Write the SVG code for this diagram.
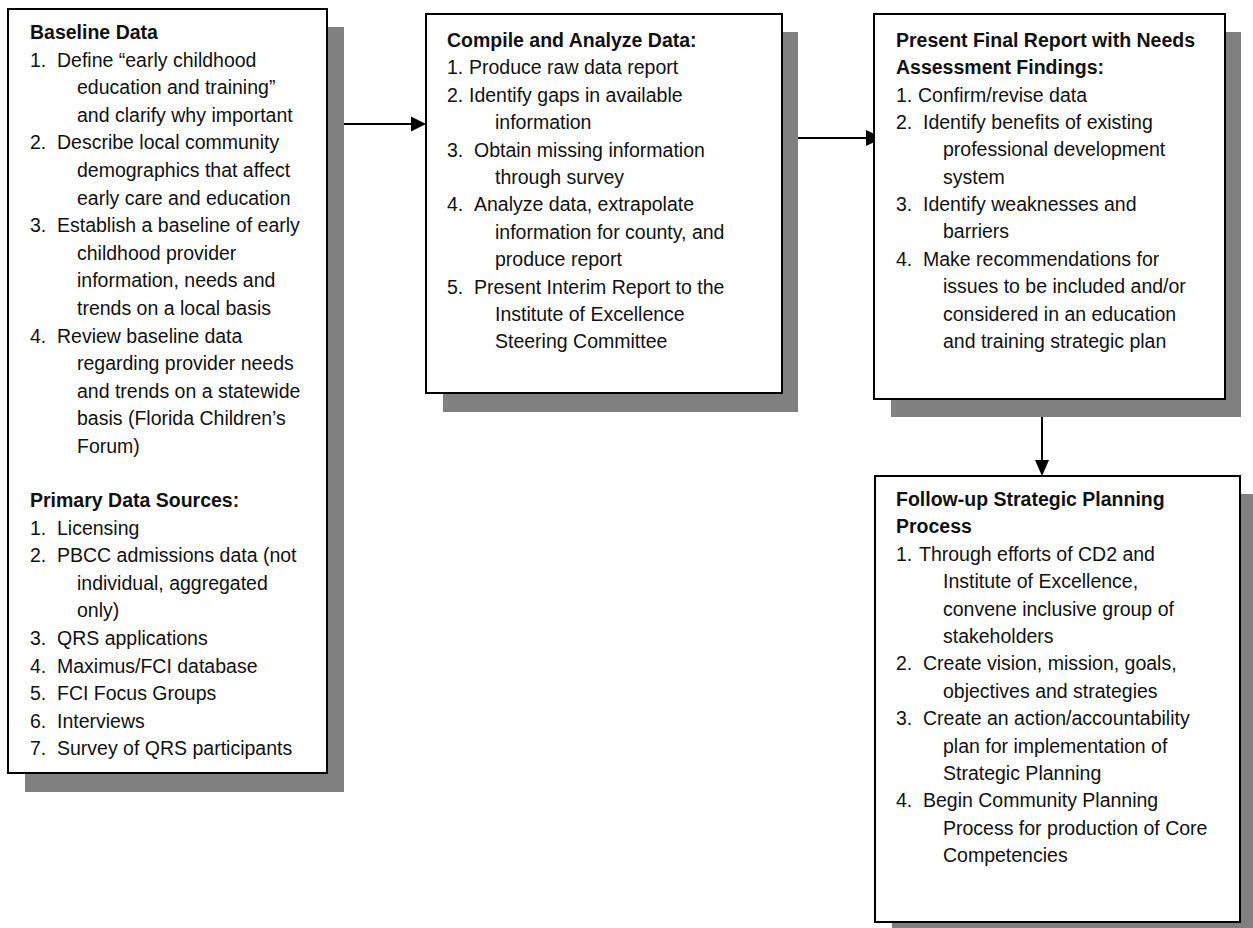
<svg xmlns="http://www.w3.org/2000/svg" width="1253" height="928" viewBox="0 0 1253 928">
<defs>
<style>
.shadow{fill:#808080;stroke:none}
.box{fill:#fff;stroke:#000;stroke-width:2}
.t{font-family:"Liberation Sans",Arial,sans-serif;font-size:19.5px;fill:#111}
.b{font-weight:bold}
.conn{stroke:#000;stroke-width:2;fill:none}
.head{fill:#000;stroke:none}
</style>
</defs>
<rect width="1253" height="928" fill="#fff"/>
<g id="connectors">
<line class="conn" x1="344" y1="124" x2="413" y2="124"/>
<polygon class="head" points="411,116.5 426,124 411,131.5"/>
<line class="conn" x1="798" y1="138" x2="868" y2="138"/>
<polygon class="head" points="866,130 883,138 866,146"/>
<line class="conn" x1="1042" y1="417" x2="1042" y2="462"/>
<polygon class="head" points="1035,460 1049,460 1042,476"/>
</g>
<g id="node-baseline">
<rect class="shadow" x="25" y="27" width="319" height="765"/>
<rect class="box" x="8" y="9" width="319" height="764"/>
<text class="t b" x="30" y="39">Baseline Data</text>
<text class="t" x="30" y="66.6">1.<tspan x="57">Define “early childhood</tspan></text>
<text class="t" x="77" y="94.2">education and training”</text>
<text class="t" x="77" y="121.8">and clarify why important</text>
<text class="t" x="30" y="149.4">2.<tspan x="57">Describe local community</tspan></text>
<text class="t" x="77" y="177">demographics that affect</text>
<text class="t" x="77" y="204.6">early care and education</text>
<text class="t" x="30" y="232.2">3.<tspan x="57">Establish a baseline of early</tspan></text>
<text class="t" x="77" y="259.8">childhood provider</text>
<text class="t" x="77" y="287.4">information, needs and</text>
<text class="t" x="77" y="315">trends on a local basis</text>
<text class="t" x="30" y="342.6">4.<tspan x="57">Review baseline data</tspan></text>
<text class="t" x="77" y="370.2">regarding provider needs</text>
<text class="t" x="77" y="397.8">and trends on a statewide</text>
<text class="t" x="77" y="425.4">basis (Florida Children’s</text>
<text class="t" x="77" y="453">Forum)</text>
<text class="t b" x="30" y="507">Primary Data Sources:</text>
<text class="t" x="30" y="534.6">1.<tspan x="57">Licensing</tspan></text>
<text class="t" x="30" y="562.2">2.<tspan x="57">PBCC admissions data (not</tspan></text>
<text class="t" x="77" y="589.8">individual, aggregated</text>
<text class="t" x="77" y="617.4">only)</text>
<text class="t" x="30" y="645">3.<tspan x="57">QRS applications</tspan></text>
<text class="t" x="30" y="672.6">4.<tspan x="57">Maximus/FCI database</tspan></text>
<text class="t" x="30" y="700.2">5.<tspan x="57">FCI Focus Groups</tspan></text>
<text class="t" x="30" y="727.8">6.<tspan x="57">Interviews</tspan></text>
<text class="t" x="30" y="755.4">7.<tspan x="57">Survey of QRS participants</tspan></text>
</g>
<g id="node-compile">
<rect class="shadow" x="443" y="32" width="355" height="380"/>
<rect class="box" x="426" y="14" width="356" height="379"/>
<text class="t b" x="447" y="47">Compile and Analyze Data:</text>
<text class="t" x="447" y="74.4">1.<tspan x="469">Produce raw data report</tspan></text>
<text class="t" x="447" y="101.8">2.<tspan x="469">Identify gaps in available</tspan></text>
<text class="t" x="495" y="129.2">information</text>
<text class="t" x="447" y="156.6">3.<tspan x="474">Obtain missing information</tspan></text>
<text class="t" x="495" y="184">through survey</text>
<text class="t" x="447" y="211.4">4.<tspan x="474">Analyze data, extrapolate</tspan></text>
<text class="t" x="495" y="238.8">information for county, and</text>
<text class="t" x="495" y="266.2">produce report</text>
<text class="t" x="447" y="293.6">5.<tspan x="474">Present Interim Report to the</tspan></text>
<text class="t" x="495" y="321">Institute of Excellence</text>
<text class="t" x="495" y="348.4">Steering Committee</text>
</g>
<g id="node-final-report">
<rect class="shadow" x="891" y="32" width="350" height="385"/>
<rect class="box" x="874" y="14" width="351" height="385"/>
<text class="t b" x="896" y="47">Present Final Report with Needs</text>
<text class="t b" x="896" y="74">Assessment Findings:</text>
<text class="t" x="896" y="101.5">1.<tspan x="918">Confirm/revise data</tspan></text>
<text class="t" x="896" y="129">2.<tspan x="923">Identify benefits of existing</tspan></text>
<text class="t" x="943" y="156">professional development</text>
<text class="t" x="943" y="183.5">system</text>
<text class="t" x="896" y="211">3.<tspan x="923">Identify weaknesses and</tspan></text>
<text class="t" x="943" y="238">barriers</text>
<text class="t" x="896" y="265.5">4.<tspan x="923">Make recommendations for</tspan></text>
<text class="t" x="943" y="293">issues to be included and/or</text>
<text class="t" x="943" y="320.5">considered in an education</text>
<text class="t" x="943" y="348">and training strategic plan</text>
</g>
<g id="node-followup">
<rect class="shadow" x="892" y="494" width="365" height="446"/>
<rect class="box" x="875" y="476" width="365" height="446"/>
<text class="t b" x="896" y="506">Follow-up Strategic Planning</text>
<text class="t b" x="896" y="533.4">Process</text>
<text class="t" x="896" y="560.8">1.<tspan x="919">Through efforts of CD2 and</tspan></text>
<text class="t" x="943" y="588.2">Institute of Excellence,</text>
<text class="t" x="943" y="615.6">convene inclusive group of</text>
<text class="t" x="943" y="643">stakeholders</text>
<text class="t" x="896" y="670.4">2.<tspan x="923">Create vision, mission, goals,</tspan></text>
<text class="t" x="943" y="697.8">objectives and strategies</text>
<text class="t" x="896" y="725.2">3.<tspan x="923">Create an action/accountability</tspan></text>
<text class="t" x="943" y="752.6">plan for implementation of</text>
<text class="t" x="943" y="780">Strategic Planning</text>
<text class="t" x="896" y="807.4">4.<tspan x="923">Begin Community Planning</tspan></text>
<text class="t" x="943" y="834.8">Process for production of Core</text>
<text class="t" x="943" y="862.2">Competencies</text>
</g>
</svg>
